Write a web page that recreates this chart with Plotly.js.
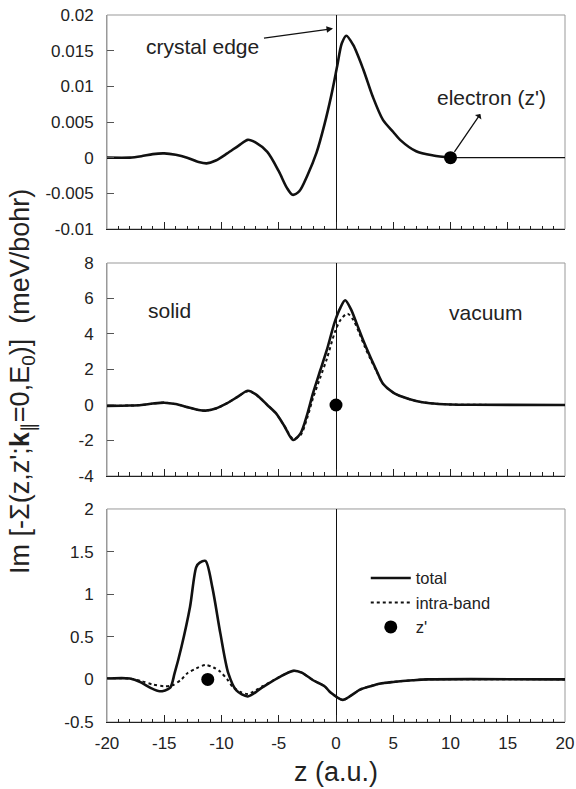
<!DOCTYPE html>
<html>
<head>
<meta charset="utf-8">
<script src="https://cdn.plot.ly/plotly-3.0.1.min.js"></script>
<style>html,body{margin:0;padding:0;background:#fff;}#chart{width:576px;height:789px;}</style>
</head>
<body>
<div id="chart"></div>
<script>
// ---------- data ----------
// top panel: total, thick part up to the electron position
var topZ     = [-20, -18, -17, -16, -15, -14, -13, -12, -11.3, -10.5, -9.5, -8.5, -7.7, -7, -6, -5, -4.3, -3.8, -3.2, -2.5, -1.7, -1, -0.4, 0.1, 0.5, 0.9, 1.5, 2.4, 3.2, 4.1, 5, 5.6, 7, 8.5, 10];
var topTotal = [0, 0, 0.0002, 0.0005, 0.0006, 0.0004, 0.0000, -0.0006, -0.0008, -0.0004, 0.0006, 0.0017, 0.0025, 0.0021, 0.0008, -0.0019, -0.0042, -0.0052, -0.0047, -0.0025, 0.0007, 0.0047, 0.0088, 0.0128, 0.0160, 0.0171, 0.0158, 0.0123, 0.0086, 0.0053, 0.0036, 0.0025, 0.0009, 0.0003, 0];
// top panel: thin tail beyond the electron
var topTailZ = [10, 20];
var topTail  = [0, 0];

// middle panel
var midZ     = [-20, -18, -17, -16, -15, -14, -13, -12, -11.4, -10.5, -9.5, -8.5, -7.7, -7, -6, -5.2, -4.5, -3.75, -3.1, -2.5, -2, -1.4, -0.8, -0.1, 0.4, 0.8, 1.3, 1.8, 2.4, 3, 3.5, 4.1, 5, 5.8, 7, 8.2, 10, 12, 20];
var midTotal = [-0.05, -0.03, 0, 0.08, 0.13, 0.05, -0.12, -0.28, -0.32, -0.2, 0.1, 0.5, 0.8, 0.6, 0, -0.5, -1.2, -1.97, -1.6, -0.5, 0.68, 1.9, 3.1, 4.7, 5.5, 5.9, 5.4, 4.6, 3.6, 2.7, 2.0, 1.2, 0.7, 0.46, 0.22, 0.1, 0.03, 0.01, 0];
var midIntraZ = [-20, -18, -17, -16, -15, -14, -13, -12, -11.4, -10.5, -9.5, -8.5, -7.7, -7, -6, -5.2, -4.5, -3.75, -3.1, -2.5, -2, -1.4, -0.8, -0.1, 0.4, 1.0, 1.5, 2.0, 2.5, 3, 3.5, 4.1, 5, 5.8, 7, 8.2, 10, 12, 20];
var midIntra  = [-0.05, -0.03, 0, 0.08, 0.13, 0.05, -0.12, -0.28, -0.32, -0.2, 0.1, 0.5, 0.78, 0.58, 0, -0.5, -1.2, -1.9, -1.7, -0.7, 0.4, 1.5, 2.6, 4.1, 4.8, 5.15, 4.8, 4.1, 3.3, 2.6, 1.95, 1.2, 0.7, 0.46, 0.22, 0.1, 0.03, 0.01, 0];

// bottom panel
var botZ     = [-20, -18, -17.1, -16.2, -15.4, -14.5, -14.1, -13.5, -12.75, -12.2, -11.9, -11.4, -10.8, -10.1, -9.4, -8.7, -7.7, -6.4, -4.9, -3.75, -3, -2, -1, -0.5, 0.6, 1.2, 2.1, 3, 3.8, 5, 6.7, 8, 20];
var botTotal = [0.01, 0.01, -0.03, -0.1, -0.14, -0.1, 0.07, 0.38, 0.85, 1.32, 1.37, 1.39, 1.08, 0.54, 0.07, -0.13, -0.2, -0.09, 0.03, 0.1, 0.08, -0.01, -0.08, -0.15, -0.24, -0.2, -0.12, -0.08, -0.05, -0.03, -0.01, 0, 0];
var botIntraZ = [-20, -18, -17, -16, -15, -14.3, -13.5, -13, -12.2, -11.4, -10.7, -10.1, -9.5, -9, -8.3, -7.7, -6.4, -4.9, -3.75, -3, -2, -1, -0.5, 0.6, 1.2, 2.1, 3, 3.8, 5, 6.7, 8, 20];
var botIntra  = [0.01, 0.01, -0.02, -0.06, -0.08, -0.07, 0.0, 0.07, 0.13, 0.17, 0.14, 0.09, 0.0, -0.09, -0.15, -0.17, -0.08, 0.03, 0.1, 0.08, -0.01, -0.08, -0.15, -0.24, -0.2, -0.12, -0.08, -0.05, -0.03, -0.01, 0, 0];

// electron positions z' (top, middle, bottom)
var electronZ   = [10, 0, -11.2];
var electronVal = [0, 0, 0];

// tick labels
var xTickVals = [-20, -15, -10, -5, 0, 5, 10, 15, 20];
var xTickText = ['-20', '-15', '-10', '-5', '0', '5', '10', '15', '20'];
var topTickVals = [-0.01, -0.005, 0, 0.005, 0.01, 0.015, 0.02];
var topTickText = ['-0.01', '-0.005', '0', '0.005', '0.01', '0.015', '0.02'];
var midTickVals = [-4, -2, 0, 2, 4, 6, 8];
var midTickText = ['-4', '-2', '0', '2', '4', '6', '8'];
var botTickVals = [-0.5, 0, 0.5, 1, 1.5, 2];
var botTickText = ['-0.5', '0', '0.5', '1', '1.5', '2'];

// ---------- traces ----------
var FONT = 'Liberation Sans, Arial, Helvetica, sans-serif';
var thick = {color: '#111', width: 2.6, shape: 'spline', smoothing: 0.8};
var dotted = {color: '#111', width: 2, dash: 'dot', shape: 'spline', smoothing: 0.8};
var dotMarker = {color: '#000', size: 13};

var traces = [
  // bottom panel first so legend order is total, intra-band, z'
  {x: botZ, y: botTotal, xaxis: 'x3', yaxis: 'y3', mode: 'lines', line: thick, name: 'total', showlegend: true},
  {x: botIntraZ, y: botIntra, xaxis: 'x3', yaxis: 'y3', mode: 'lines', line: dotted, name: 'intra-band', showlegend: true},
  {x: [electronZ[2]], y: [electronVal[2]], xaxis: 'x3', yaxis: 'y3', mode: 'markers', marker: dotMarker, name: "z'", showlegend: true},
  // middle panel
  {x: midIntraZ, y: midIntra, xaxis: 'x2', yaxis: 'y2', mode: 'lines', line: dotted, showlegend: false},
  {x: midZ, y: midTotal, xaxis: 'x2', yaxis: 'y2', mode: 'lines', line: thick, showlegend: false},
  {x: [electronZ[1]], y: [electronVal[1]], xaxis: 'x2', yaxis: 'y2', mode: 'markers', marker: dotMarker, showlegend: false},
  // top panel
  {x: topZ, y: topTotal, xaxis: 'x', yaxis: 'y', mode: 'lines', line: thick, showlegend: false},
  {x: topTailZ, y: topTail, xaxis: 'x', yaxis: 'y', mode: 'lines', line: {color: '#111', width: 1.2}, showlegend: false},
  {x: [electronZ[0]], y: [electronVal[0]], xaxis: 'x', yaxis: 'y', mode: 'markers', marker: dotMarker, showlegend: false}
];

// ---------- layout ----------
function xAxis(anchor, labels) {
  return {
    anchor: anchor, range: [-20, 20], domain: [0, 1],
    tickvals: xTickVals, ticktext: xTickText, showticklabels: labels,
    ticks: 'inside', ticklen: 7, tickwidth: 1, tickcolor: '#222',
    minor: {dtick: 1, ticks: 'inside', ticklen: 3.5, tickcolor: '#222', tickwidth: 1},
    showline: true, linecolor: '#222', linewidth: 1.2, mirror: false,
    showgrid: false, zeroline: true, zerolinecolor: '#111', zerolinewidth: 1,
    tickfont: {family: FONT, size: 17, color: '#222'}, ticklabelstandoff: 5,
    fixedrange: true
  };
}
function yAxis(anchor, domain, range, vals, text) {
  return {
    anchor: anchor, domain: domain, range: range,
    tickvals: vals, ticktext: text,
    ticks: 'inside', ticklen: 7, tickwidth: 1, tickcolor: '#555',
    showline: true, linecolor: '#999', linewidth: 1, mirror: false,
    showgrid: false, zeroline: false,
    tickfont: {family: FONT, size: 17, color: '#222'}, ticklabelstandoff: 9,
    fixedrange: true
  };
}
function frame(xr, yr) {
  return {type: 'rect', xref: xr + ' domain', yref: yr + ' domain', x0: 0, x1: 1, y0: 0, y1: 1,
          line: {color: '#999', width: 1}, layer: 'below'};
}

var layout = {
  width: 576, height: 789,
  margin: {l: 107, r: 11, t: 15, b: 67},
  paper_bgcolor: '#fff', plot_bgcolor: '#fff',
  font: {family: FONT, color: '#222'},
  xaxis: xAxis('y', false),
  xaxis2: xAxis('y2', false),
  xaxis3: xAxis('y3', true),
  yaxis: yAxis('x', [0.6973, 1], [-0.01, 0.02], topTickVals, topTickText),
  yaxis2: yAxis('x2', [0.3480, 0.6492], [-4, 8], midTickVals, midTickText),
  yaxis3: yAxis('x3', [0, 0.3013], [-0.5, 2], botTickVals, botTickText),
  shapes: [frame('x', 'y'), frame('x2', 'y2'), frame('x3', 'y3')],
  showlegend: true,
  legend: {x: 0.565, y: 0.228, xanchor: 'left', yanchor: 'top', bgcolor: 'rgba(0,0,0,0)',
           font: {family: FONT, size: 16.5, color: '#222'}, traceorder: 'normal', itemwidth: 40,
           tracegroupgap: 0},
  annotations: [
    // y-axis title
    {xref: 'paper', yref: 'paper', x: -0.1856, y: 0.4823, xanchor: 'center', yanchor: 'middle',
     textangle: -90, showarrow: false,
     text: "Im [-Σ(z,z';<b>k</b><sub>∥</sub>=0,E<sub>0</sub>)]\u00a0\u00a0(meV/bohr)",
     font: {family: FONT, size: 27, color: '#222'}},
    // x-axis title
    {xref: 'paper', yref: 'paper', x: 0.5, y: -0.0707, xanchor: 'center', yanchor: 'middle',
     showarrow: false, text: 'z (a.u.)', font: {family: FONT, size: 27, color: '#222'}},
    // crystal edge: arrow from the text to the edge at z = 0
    {xref: 'x', yref: 'y', x: -0.26, y: 0.0181, axref: 'pixel', ayref: 'pixel', ax: -131, ay: 18,
     text: 'crystal edge', showarrow: true, arrowhead: 2, arrowsize: 1, arrowwidth: 1.3,
     arrowcolor: '#111', standoff: 0, startstandoff: 4,
     font: {family: FONT, size: 21, color: '#222'}},
    // electron (z'): arrow from the electron towards the text
    {xref: 'x', yref: 'y', x: electronZ[0], y: electronVal[0], axref: 'pixel', ayref: 'pixel', ax: 41, ay: -60,
     text: "electron (z')", showarrow: true, arrowside: 'start', arrowhead: 2, arrowsize: 1, arrowwidth: 1.3,
     arrowcolor: '#111', standoff: 7, startstandoff: 4,
     font: {family: FONT, size: 21, color: '#222'}},
    // solid / vacuum
    {xref: 'x2', yref: 'y2', x: -14.5, y: 5.3, showarrow: false, text: 'solid',
     font: {family: FONT, size: 21, color: '#222'}},
    {xref: 'x2', yref: 'y2', x: 13.1, y: 5.2, showarrow: false, text: 'vacuum',
     font: {family: FONT, size: 21, color: '#222'}}
  ]
};

Plotly.newPlot('chart', traces, layout, {displayModeBar: false, staticPlot: true});
</script>
</body>
</html>
